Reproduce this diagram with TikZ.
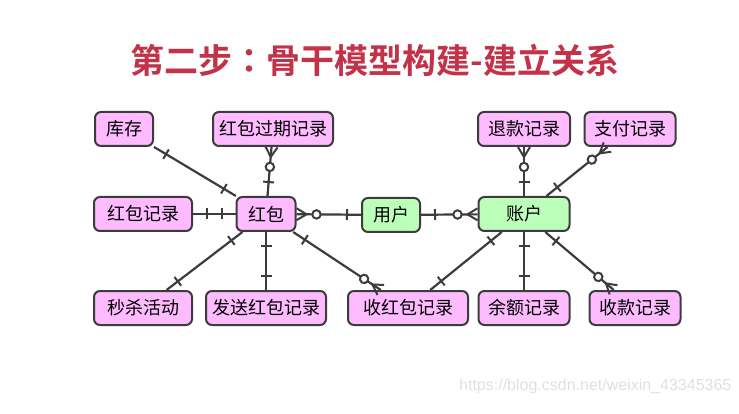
\documentclass[tikz,border=0pt]{standalone}
\usepackage{fontspec}
\newfontfamily\cjk{Noto Sans CJK SC}
\newfontfamily\cjkbold{Noto Sans CJK SC Bold}
\newfontfamily\cjkboldtc{Noto Sans CJK TC Bold}
\setmainfont{Liberation Sans}
\usetikzlibrary{decorations.markings}

\definecolor{linegray}{HTML}{3C3C3C}
\definecolor{pinkfill}{HTML}{FFBBFF}
\definecolor{greenfill}{HTML}{BBFFBB}
\definecolor{titlered}{HTML}{C23349}

\tikzset{
  ent/.style={draw=linegray, line width=2pt, rounded corners=6pt, minimum height=34pt,
    inner sep=0pt, font=\cjk\fontsize{18}{18}\selectfont},
  pinkent/.style={ent, fill=pinkfill},
  greenent/.style={ent, fill=greenfill},
  rel/.style={draw=linegray, line width=2.2pt},
  one start/.style={postaction={decorate, decoration={markings,
    mark=at position 14pt with {\draw[linegray, line width=2pt] (0,-5.5pt) -- (0,5.5pt);}}}},
  one end/.style={postaction={decorate, decoration={markings,
    mark=at position -14pt with {\draw[linegray, line width=2pt] (0,-5.5pt) -- (0,5.5pt);}}}},
  many start/.style={postaction={decorate, decoration={markings,
    mark=at position 10pt with {\draw[linegray, line width=2pt] (-10pt,6pt) -- (0,0) -- (-10pt,-6pt);},
    mark=at position 20pt with {\draw[linegray, line width=2pt, fill=white] (0,0) circle (4.2pt);}}}},
  many end/.style={postaction={decorate, decoration={markings,
    mark=at position -10pt with {\draw[linegray, line width=2pt] (10pt,6pt) -- (0,0) -- (10pt,-6pt);},
    mark=at position -20pt with {\draw[linegray, line width=2pt, fill=white] (0,0) circle (4.2pt);}}}}
}

\begin{document}
\begin{tikzpicture}[x=1pt, y=-1pt]
\useasboundingbox (0,0) rectangle (739,414);

\node[text=titlered, font=\cjkbold\fontsize{34}{34}\selectfont] (title) at (375,60) {第二步{\cjkboldtc ：}骨干模型构建-建立关系};

\node[pinkent, minimum width=58pt] (kucun) at (124,129) {库存};
\node[pinkent, minimum width=120pt] (hbgq) at (273,129) {红包过期记录};
\node[pinkent, minimum width=98pt] (hbjl) at (143,214) {红包记录};
\node[pinkent, minimum width=59pt] (hongbao) at (266,214) {红包};
\node[greenent, minimum width=58pt] (yonghu) at (391,215) {用户};
\node[greenent, minimum width=91pt] (zhanghu) at (524,214) {账户};
\node[pinkent, minimum width=92pt] (tuikuan) at (524,129) {退款记录};
\node[pinkent, minimum width=91pt] (zhifu) at (630,129) {支付记录};
\node[pinkent, minimum width=98pt] (miaosha) at (143,308) {秒杀活动};
\node[pinkent, minimum width=120pt] (fasong) at (266,308) {发送红包记录};
\node[pinkent, minimum width=120pt] (shouhb) at (408,308) {收红包记录};
\node[pinkent, minimum width=91pt] (yue) at (524,308) {余额记录};
\node[pinkent, minimum width=91pt] (shoukuan) at (635,308) {收款记录};

\draw[rel, one start, one end] (kucun) -- (hongbao);
\draw[rel, many start, one end] (hbgq) -- (hongbao);
\draw[rel, one start, one end] (hbjl) -- (hongbao);
\draw[rel, many start, one end] (hongbao) -- (yonghu);
\draw[rel, one start, many end] (yonghu) -- (zhanghu);
\draw[rel, one start, one end] (hongbao) -- (miaosha);
\draw[rel, one start, one end] (hongbao) -- (fasong);
\draw[rel, one start, many end] (hongbao) -- (shouhb);
\draw[rel, one start, one end] (zhanghu) -- (shouhb);
\draw[rel, one start, one end] (zhanghu) -- (yue);
\draw[rel, one start, many end] (zhanghu) -- (shoukuan);
\draw[rel, one start, many end] (zhanghu) -- (tuikuan);
\draw[rel, one start, many end] (zhanghu) -- (zhifu);

\node[anchor=west, text=black!12, font=\fontsize{16}{16}\selectfont, inner sep=0pt] (mark) at (459,386) {https://blog.csdn.net/weixin\_43345365};

\end{tikzpicture}
\end{document}
